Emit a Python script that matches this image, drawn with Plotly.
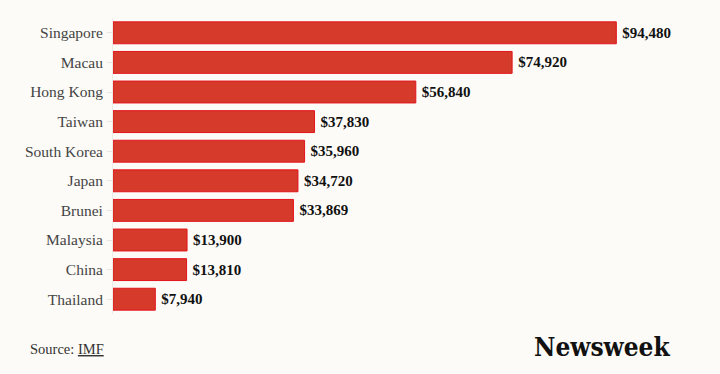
import plotly.graph_objects as go

countries = ["Singapore", "Macau", "Hong Kong", "Taiwan", "South Korea",
             "Japan", "Brunei", "Malaysia", "China", "Thailand"]
values = [94480, 74920, 56840, 37830, 35960, 34720, 33869, 13900, 13810, 7940]
value_labels = ["$94,480", "$74,920", "$56,840", "$37,830", "$35,960",
                "$34,720", "$33,869", "$13,900", "$13,810", "$7,940"]

bg = "#fcfbf7"
L, R, T, B = 113, 21, 18, 60
W, H = 720, 374

fig = go.Figure(go.Bar(
    x=values, y=countries, orientation="h",
    marker=dict(color="#d63a2a", line=dict(color="#e3141c", width=1)),
    width=0.74,
    text=value_labels, textposition="outside", cliponaxis=False,
    textfont=dict(family="Liberation Serif", size=15, color="#111111"),
    texttemplate="\u2009<b>%{text}</b>",
    hoverinfo="skip",
))

fig.update_layout(
    width=W, height=H,
    paper_bgcolor=bg, plot_bgcolor=bg,
    margin=dict(l=L, r=R, t=T, b=B),
    showlegend=False,
    xaxis=dict(range=[0, 110000], visible=False, fixedrange=True),
    yaxis=dict(autorange="reversed", showgrid=False, zeroline=False,
               showline=True, linecolor="#eeece6", linewidth=1,
               ticks="outside", ticklen=5, tickcolor="#e8e6e0",
               tickfont=dict(family="Liberation Serif", size=15.5, color="#444444"),
               ticklabelstandoff=1, fixedrange=True),
    annotations=[
        dict(text="Source: <u>IMF</u>", x=28, y=349, xref="paper", yref="paper",
             showarrow=False, xanchor="left", yanchor="middle",
             font=dict(family="Liberation Serif", size=14.5, color="#333333")),
        dict(text="<b>Newsweek</b>", x=672, y=347, xref="paper", yref="paper",
             showarrow=False, xanchor="right", yanchor="middle",
             font=dict(family="DejaVu Serif Condensed", size=26, color="#111111")),
    ],
)

# convert pixel positions of annotations to paper coords
for a in fig.layout.annotations:
    a.x = (a.x - L) / (W - L - R)
    a.y = 1 - (a.y - T) / (H - T - B)

fig.write_html("out.html", config={"displayModeBar": False},
               post_script="document.body.style.margin='0';")
